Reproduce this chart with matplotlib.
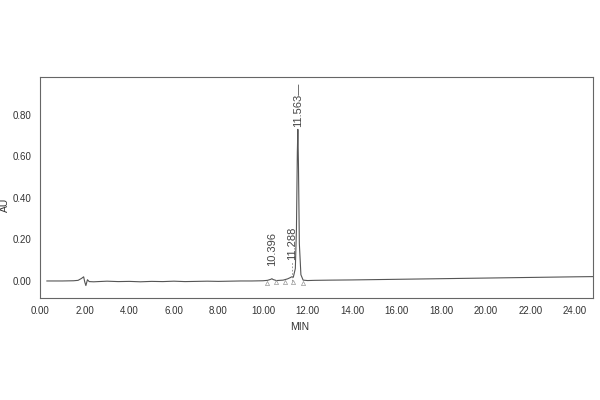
import matplotlib.pyplot as plt

plt.rcParams['font.family'] = ['Liberation Sans', 'DejaVu Sans']

# chromatogram trace (minutes, AU)
time_min = [0.3, 1.0, 1.5, 1.7, 1.85, 1.95, 2.0, 2.05, 2.12, 2.2, 2.4, 3.0, 3.5, 4.0, 4.5,
            5.0, 5.5, 6.0, 6.5, 7.0, 7.5, 8.0, 8.5, 9.0, 9.5, 10.0, 10.2, 10.35, 10.396,
            10.45, 10.6, 10.9, 11.1, 11.22, 11.288, 11.36, 11.45, 11.5, 11.54, 11.563,
            11.59, 11.63, 11.7, 11.8, 12.0, 12.3, 13.0, 14.0, 16.0, 18.0, 20.0, 22.0, 24.0, 24.8]
absorb = [0.000, 0.000, 0.001, 0.003, 0.012, 0.020, -0.005, -0.022, 0.006, -0.003, -0.004, -0.001,
          -0.003, -0.002, -0.004, -0.002, -0.003, -0.001, -0.003, -0.002, -0.001, -0.002, -0.001,
          0.000, 0.000, 0.001, 0.003, 0.008, 0.011, 0.007, 0.002, 0.004, 0.010, 0.016, 0.020,
          0.018, 0.060, 0.250, 0.620, 0.730, 0.560, 0.180, 0.030, 0.004, 0.002, 0.003, 0.004,
          0.005, 0.008, 0.011, 0.014, 0.017, 0.020, 0.021]

peak_times = [10.396, 11.288, 11.563]
peak_labels = ['10.396', '11.288', '11.563—']
label_base = [0.07, 0.10, 0.74]

x_ticks = [0, 2, 4, 6, 8, 10, 12, 14, 16, 18, 20, 22, 24]
y_ticks = [0.0, 0.2, 0.4, 0.6, 0.8]

fig = plt.figure(figsize=(6, 4), dpi=100)
ax = fig.add_axes([0.067, 0.255, 0.921, 0.553])

ax.plot(time_min, absorb, color='#555555', lw=0.8)

# dashed drop line below the middle peak label
ax.plot([11.288, 11.288], [0.0, 0.095], color='#888888', lw=0.6, ls=(0, (2, 2)))

for t, lab, yb in zip(peak_times, peak_labels, label_base):
    ax.text(t, yb, lab, rotation=90, ha='center', va='bottom', fontsize=8, color='#444444')

# integration marks near the baseline
ax.plot([10.2, 10.6, 11.0, 11.35, 11.8], [-0.008, -0.006, -0.004, -0.006, -0.008],
        ls='none', marker='^', ms=3, mfc='none', mec='#999999', mew=0.5)

ax.set_xlim(0, 24.8)
ax.set_ylim(-0.082, 0.983)
ax.set_xticks(x_ticks)
ax.set_xticklabels(['%.2f' % v for v in x_ticks])
ax.set_yticks(y_ticks)
ax.set_yticklabels(['%.2f' % v for v in y_ticks])
ax.tick_params(length=0, labelsize=7, colors='#333333', pad=6)
for s in ax.spines.values():
    s.set_color('#666666')
    s.set_linewidth(0.8)

ax.set_xlabel('MIN', fontsize=7.5, color='#333333')
ax.xaxis.set_label_coords(0.47, -0.11)
ax.set_ylabel('AU', fontsize=7.5, color='#333333')
ax.yaxis.set_label_coords(-0.055, 0.42)

fig.savefig('out.png', dpi=100)
